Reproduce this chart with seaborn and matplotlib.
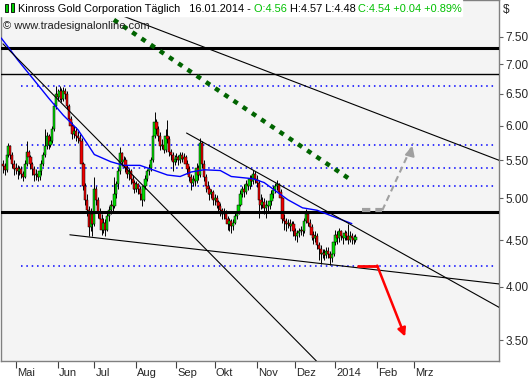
import numpy as np
import pandas as pd
import matplotlib
matplotlib.use("Agg")
import matplotlib.pyplot as plt
import matplotlib.transforms as mtransforms
from matplotlib.ticker import FixedLocator, NullLocator, FuncFormatter
import seaborn as sns

# Kinross Gold daily closes, 22.04.2013 - 16.01.2014
closes = [
    5.42, 5.37, 5.58, 5.70, 5.58, 5.45, 5.38, 5.40, 5.36, 5.38,
    5.32, 5.28, 5.45, 5.62, 5.55, 5.45, 5.38, 5.30, 5.32, 5.28,
    5.35, 5.45, 5.58, 5.70, 5.85, 5.72, 5.78, 5.95, 6.30, 6.50,
    6.45, 6.55, 6.42, 6.55, 6.50, 6.30, 6.10, 6.00, 5.88, 5.92,
    5.85, 5.82, 5.78, 5.45, 5.15, 4.98, 4.85, 4.65, 4.80, 4.68,
    5.12, 4.98, 4.82, 4.75, 4.62, 4.70, 4.62, 4.78, 4.85, 4.92,
    4.90, 5.05, 5.18, 5.35, 5.60, 5.48, 5.50, 5.40, 5.32, 5.35,
    5.25, 5.20, 5.12, 5.18, 5.12, 5.05, 4.98, 5.15, 5.25, 5.35,
    5.40, 5.50, 5.85, 6.05, 5.95, 5.85, 5.70, 5.72, 5.65, 5.85,
    5.80, 5.62, 5.58, 5.48, 5.52, 5.55, 5.50, 5.58, 5.52, 5.55,
    5.45, 5.38, 5.28, 5.20, 5.25, 5.22, 5.40, 5.30, 5.75, 5.45,
    5.28, 5.15, 5.12, 5.05, 5.08, 4.98, 5.00, 4.95, 4.90, 4.85,
    4.80, 4.82, 4.75, 4.68, 4.72, 4.66, 4.70, 4.78, 4.82, 4.92,
    5.05, 5.12, 5.08, 5.18, 5.15, 5.25, 5.22, 5.32, 5.25, 5.20,
    4.98, 4.92, 4.95, 4.88, 4.92, 4.90, 4.96, 5.05, 5.10, 5.15,
    5.18, 5.08, 5.00, 4.75, 4.72, 4.68, 4.70, 4.66, 4.68, 4.60,
    4.55, 4.58, 4.60, 4.62, 4.60, 4.72, 4.80, 4.70, 4.65, 4.56,
    4.52, 4.55, 4.45, 4.40, 4.34, 4.36, 4.33, 4.38, 4.35, 4.30,
    4.35, 4.48, 4.56, 4.52, 4.60, 4.55, 4.52, 4.58, 4.55, 4.50,
    4.55, 4.52, 4.50, 4.54,
]
highs = [
    5.50, 5.46, 5.62, 5.74, 5.72, 5.62, 5.50, 5.46, 5.44, 5.42,
    5.42, 5.36, 5.50, 5.78, 5.65, 5.58, 5.48, 5.42, 5.38, 5.36,
    5.40, 5.50, 5.62, 5.95, 5.90, 5.88, 5.84, 6.00, 6.35, 6.63,
    6.58, 6.63, 6.60, 6.62, 6.60, 6.55, 6.34, 6.15, 6.05, 6.00,
    5.98, 5.92, 5.88, 5.82, 5.48, 5.20, 5.05, 4.90, 4.88, 4.84,
    5.28, 5.15, 5.02, 4.88, 4.80, 4.76, 4.74, 4.82, 4.90, 4.98,
    5.00, 5.28, 5.22, 5.40, 5.68, 5.62, 5.56, 5.54, 5.44, 5.40,
    5.38, 5.30, 5.24, 5.22, 5.20, 5.15, 5.08, 5.18, 5.30, 5.38,
    5.45, 5.55, 5.90, 6.21, 6.10, 6.00, 5.90, 5.80, 5.76, 5.95,
    6.08, 5.84, 5.66, 5.62, 5.58, 5.60, 5.58, 5.62, 5.62, 5.60,
    5.58, 5.50, 5.42, 5.32, 5.30, 5.30, 5.46, 5.44, 5.82, 5.78,
    5.50, 5.32, 5.22, 5.16, 5.12, 5.10, 5.05, 5.04, 4.98, 4.94,
    4.88, 4.88, 4.85, 4.78, 4.76, 4.75, 4.74, 4.82, 4.86, 4.96,
    5.10, 5.16, 5.18, 5.24, 5.24, 5.30, 5.30, 5.37, 5.36, 5.30,
    5.24, 5.05, 5.02, 5.00, 4.98, 4.96, 5.00, 5.10, 5.15, 5.20,
    5.24, 5.20, 5.12, 5.02, 4.80, 4.76, 4.75, 4.74, 4.72, 4.72,
    4.64, 4.62, 4.64, 4.66, 4.66, 4.76, 4.87, 4.82, 4.74, 4.68,
    4.60, 4.60, 4.58, 4.48, 4.44, 4.40, 4.40, 4.42, 4.42, 4.38,
    4.40, 4.52, 4.62, 4.60, 4.64, 4.62, 4.58, 4.62, 4.60, 4.68,
    4.60, 4.58, 4.56, 4.57,
]
lows = [
    5.33, 5.30, 5.34, 5.55, 5.52, 5.40, 5.30, 5.32, 5.25, 5.30,
    5.26, 5.22, 5.26, 5.42, 5.48, 5.38, 5.30, 5.22, 5.24, 5.22,
    5.24, 5.30, 5.42, 5.55, 5.66, 5.66, 5.68, 5.74, 5.92, 6.26,
    6.38, 6.40, 6.36, 6.38, 6.42, 6.25, 6.04, 5.92, 5.80, 5.82,
    5.78, 5.74, 5.70, 5.40, 5.10, 4.92, 4.78, 4.55, 4.60, 4.55,
    4.66, 4.92, 4.76, 4.65, 4.56, 4.58, 4.55, 4.60, 4.72, 4.80,
    4.84, 4.88, 5.00, 5.12, 5.32, 5.42, 5.44, 5.34, 5.26, 5.24,
    5.18, 5.12, 5.06, 5.08, 5.05, 4.98, 4.90, 4.96, 5.12, 5.22,
    5.30, 5.36, 5.48, 5.82, 5.88, 5.78, 5.64, 5.66, 5.60, 5.62,
    5.74, 5.56, 5.50, 5.35, 5.44, 5.48, 5.44, 5.46, 5.48, 5.46,
    5.40, 5.32, 5.22, 5.10, 5.16, 5.16, 5.20, 5.24, 5.28, 5.40,
    5.22, 5.08, 5.05, 4.98, 5.00, 4.92, 4.92, 4.88, 4.84, 4.78,
    4.74, 4.75, 4.70, 4.62, 4.60, 4.58, 4.62, 4.68, 4.74, 4.80,
    4.90, 5.02, 5.02, 5.05, 5.10, 5.12, 5.16, 5.18, 5.20, 5.14,
    4.76, 4.86, 4.88, 4.80, 4.76, 4.84, 4.86, 4.92, 5.00, 5.06,
    5.10, 5.02, 4.95, 4.70, 4.62, 4.60, 4.64, 4.60, 4.62, 4.55,
    4.50, 4.48, 4.54, 4.56, 4.55, 4.58, 4.70, 4.66, 4.58, 4.50,
    4.46, 4.48, 4.40, 4.28, 4.24, 4.30, 4.28, 4.30, 4.30, 4.23,
    4.26, 4.32, 4.45, 4.46, 4.48, 4.50, 4.46, 4.50, 4.50, 4.46,
    4.48, 4.46, 4.46, 4.48,
]
first_open = 5.45

# blue moving average, read at a few days
ma_idx = [-1, 4, 8, 17, 25, 33, 41, 46, 50, 59, 66, 75, 82, 90, 97, 103,
          110, 119, 125, 137, 143, 150, 156, 164, 172, 179, 191]
ma_val = [7.48, 7.26, 7.08, 6.73, 6.43, 6.16, 5.94, 5.74, 5.58, 5.48, 5.43,
          5.43, 5.37, 5.30, 5.28, 5.34, 5.37, 5.36, 5.28, 5.25, 5.20, 5.08,
          4.98, 4.88, 4.85, 4.79, 4.69]

thick_levels = [7.30, 4.83]
thin_levels = [6.83]
dotted_levels = [6.63, 5.72, 5.40, 5.15, 4.22]

# trend lines as (day0, price0, day1, price1)
black_lines = [
    (0, 7.37, 171.6, 3.32),
    (47, 8.17, 271.6, 5.50),
    (100.5, 5.89, 271.6, 3.80),
    (36.6, 4.56, 271.6, 4.03),
]
green_line = (60.7, 7.83, 190.2, 5.24)
grey_path = [(196.7, 4.85), (207.7, 4.85), (224.6, 5.74)]
red_path = [(194.5, 4.22), (204.9, 4.22), (220.2, 3.53)]

y_ticks = [3.5, 4.0, 4.5, 5.0, 5.5, 6.0, 6.5, 7.0, 7.5]
month_labels = ["Mai", "Jun", "Jul", "Aug", "Sep", "Okt", "Nov", "Dez",
                "2014", "Feb", "Mrz"]

sns.set_style("white")
plt.rcParams['font.family'] = ['Liberation Sans', 'DejaVu Sans']

df = pd.DataFrame({"close": closes, "high": highs, "low": lows})
df["open"] = [first_open] + closes[:-1]
df["day"] = np.arange(len(df))
dates = pd.bdate_range("2013-04-22", periods=280)

W, H = 531, 380
fig = plt.figure(figsize=(W / 100, H / 100), dpi=100)
ax = fig.add_axes([1 / W, 19 / H, 498 / W, 361 / H])
ax.set_facecolor("#f4f4f4")
ax.set_yscale("log")
ax.set_xlim(-1.1, 271.6)
ax.set_ylim(3.32, 8.23)

# horizontal levels
for lv in thick_levels:
    ax.axhline(lv, color="black", lw=2.2, zorder=4)
for lv in thin_levels:
    ax.axhline(lv, color="black", lw=1.0, zorder=4)
for lv in dotted_levels:
    ax.hlines(lv, 10, 270, color="#0000ff", lw=1.1, ls=(0, (1, 2.5)), zorder=2)

# candles
up = df["close"] >= df["open"]
ax.vlines(df["day"], df["low"], df["high"], color="black", lw=0.7, zorder=3)
ax.bar(df["day"], df["close"] - df["open"], bottom=df["open"], width=1.25,
       color=np.where(up, "#00e000", "#ee0000"), edgecolor="black",
       linewidth=0.35, zorder=3)

# moving average
sns.lineplot(x=ma_idx, y=ma_val, ax=ax, color="#0000ff", lw=1.0, sort=False,
             zorder=5)

for x0, y0, x1, y1 in black_lines:
    ax.plot([x0, x1], [y0, y1], color="black", lw=0.8, zorder=5)
ax.plot([green_line[0], green_line[2]], [green_line[1], green_line[3]],
        color="#006400", lw=3.2, ls=(0, (1.1, 1.4)), zorder=5)

# projected paths
gx, gy = zip(*grey_path)
ax.plot(gx[:2], gy[:2], color="#a0a0a0", lw=3, ls=(0, (2, 1.2)), zorder=6)
ax.plot(gx[1:], gy[1:], color="#a0a0a0", lw=1.5, ls=(0, (3, 2)), zorder=6)
ax.annotate("", xy=grey_path[2], xytext=(gx[2] - 1.5, gy[2] * 0.975),
            arrowprops=dict(arrowstyle="-|>", color="#a0a0a0", lw=1.5,
                            mutation_scale=14), zorder=6)
rx, ry = zip(*red_path)
ax.plot(rx[:2], ry[:2], color="#ff0000", lw=2, zorder=6)
ax.annotate("", xy=red_path[2], xytext=red_path[1],
            arrowprops=dict(arrowstyle="-|>", color="#ff0000", lw=1.8,
                            mutation_scale=12, shrinkA=0, shrinkB=0), zorder=6)

# axes styling
for sp in ax.spines.values():
    sp.set_color("#808080")
    sp.set_linewidth(1)
ax.yaxis.tick_right()
ax.yaxis.set_major_locator(FixedLocator(y_ticks))
ax.yaxis.set_minor_locator(NullLocator())
ax.yaxis.set_major_formatter(FuncFormatter(lambda v, p: f"{v:.2f}"))
ax.tick_params(axis="y", which="major", direction="out", length=3, width=0.8,
               color="#606060", labelsize=8.5, pad=1.5, right=True, left=False)

month_pos = [i for i in range(1, len(dates)) if dates[i].month != dates[i - 1].month]
month_pos = month_pos[:len(month_labels)]
ax.set_xticks(month_pos)
ax.set_xticklabels(month_labels)
ax.tick_params(axis="x", direction="out", length=5, width=0.8, color="#404040",
               labelsize=8, pad=0, bottom=True)
offset = mtransforms.ScaledTranslation(1 / 100, 0, fig.dpi_scale_trans)
for lab in ax.get_xticklabels():
    lab.set_horizontalalignment("left")
    lab.set_transform(lab.get_transform() + offset)

# header
fig.patches.append(plt.Rectangle((0, 1 - 16 / H), 462 / W, 16 / H,
                                 transform=fig.transFigure, color="white",
                                 zorder=1))
# small candle icon
for x0, y0, h in [(5, 4, 8), (11, 3, 9)]:
    fig.patches.append(plt.Rectangle((x0 / W, 1 - (y0 + h) / H), 3 / W, h / H,
                                     transform=fig.transFigure,
                                     facecolor="#00d000", edgecolor="black",
                                     lw=0.6, zorder=2))
fig.canvas.draw()
rend = fig.canvas.get_renderer()
pieces = [("Kinross Gold Corporation Täglich   16.01.2014 - ", "black"),
          ("O:4.56 ", "#00c000"), ("H:4.57 L:4.48 ", "black"),
          ("C:4.54 +0.04 +0.89%", "#00c000")]
x = 18 / W
for s, col in pieces:
    t = fig.text(x, 1 - 8.5 / H, s, color=col, fontsize=7.9, va="center",
                 ha="left", zorder=4)
    x = t.get_window_extent(rend).x1 / fig.bbox.width
fig.text(3 / W, 1 - 26 / H, "© www.tradesignalonline.com", fontsize=8,
         va="center", ha="left", color="#202020")
fig.text(503 / W, 1 - 10 / H, "$", fontsize=8.5, va="center", ha="left")

fig.savefig("out.png", dpi=100, facecolor="white")
